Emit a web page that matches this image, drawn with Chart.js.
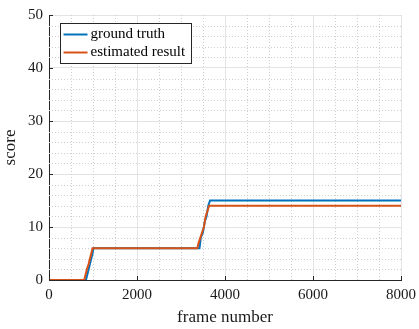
<!DOCTYPE html>
<html>
<head>
<meta charset="utf-8">
<script src="https://cdn.jsdelivr.net/npm/chart.js@4/dist/chart.umd.min.js"></script>
<style>
  html, body { margin: 0; padding: 0; background: #fff; }
  #wrap { width: 419px; height: 329px; }
</style>
</head>
<body>
<div id="wrap"><canvas id="scoreChart" width="419" height="329"></canvas></div>
<script>
// data
const gtFrames  = [0, 840, 870, 900, 930, 960, 990, 1010, 3420, 3450, 3500, 3540, 3580, 3620, 3660, 8000];
const gtScores  = [0, 0, 1, 2, 3, 4, 5, 6, 6, 8, 9, 11, 12, 14, 15, 15];
const estFrames = [0, 800, 830, 860, 900, 930, 960, 990, 3370, 3400, 3440, 3480, 3520, 3560, 3600, 3640, 8000];
const estScores = [0, 0, 1, 2, 3, 4, 5, 6, 6, 7, 8, 9, 10, 12, 13, 14, 14];
const xTicks = [0, 2000, 4000, 6000, 8000];
const yTicks = [0, 10, 20, 30, 40, 50];

const toPoints = (xs, ys) => xs.map((x, i) => ({ x: x, y: ys[i] }));

const serif = "'Liberation Serif', 'Times New Roman', serif";
const axisColor = '#262626';

// minor dotted grid, inward ticks and legend box inside the axes
const matlabLook = {
    id: 'matlabLook',
    beforeDatasetsDraw(chart) {
        const { ctx, chartArea: a, scales: { x, y } } = chart;
        ctx.save();
        ctx.strokeStyle = '#cfcfcf';
        ctx.lineWidth = 1;
        ctx.setLineDash([1, 2]);
        for (let v = 0; v <= 8000; v += 500) {
            if (v % 2000 === 0) continue;
            const px = Math.round(x.getPixelForValue(v)) + 0.5;
            ctx.beginPath(); ctx.moveTo(px, a.top); ctx.lineTo(px, a.bottom); ctx.stroke();
        }
        for (let v = 0; v <= 50; v += 2) {
            if (v % 10 === 0) continue;
            const py = Math.round(y.getPixelForValue(v)) + 0.5;
            ctx.beginPath(); ctx.moveTo(a.left, py); ctx.lineTo(a.right, py); ctx.stroke();
        }
        ctx.restore();
    },
    afterDatasetsDraw(chart) {
        const { ctx, chartArea: a, scales: { x, y } } = chart;
        ctx.save();
        ctx.strokeStyle = axisColor;
        ctx.lineWidth = 1;
        ctx.beginPath();
        xTicks.forEach(v => {
            const px = Math.round(x.getPixelForValue(v)) + 0.5;
            ctx.moveTo(px, a.bottom); ctx.lineTo(px, a.bottom - 4);
        });
        yTicks.forEach(v => {
            const py = Math.round(y.getPixelForValue(v)) + 0.5;
            ctx.moveTo(a.left, py); ctx.lineTo(a.left + 4, py);
        });
        ctx.stroke();

        // legend
        const bx = a.left + 11.5, by = a.top + 8.5, bw = 131, bh = 40;
        ctx.fillStyle = '#fff';
        ctx.fillRect(bx, by, bw, bh);
        ctx.strokeStyle = axisColor;
        ctx.strokeRect(bx, by, bw, bh);
        ctx.font = '15px ' + serif;
        ctx.textBaseline = 'middle';
        chart.data.datasets.forEach((ds, i) => {
            const ly = by + 11 + i * 18;
            ctx.strokeStyle = ds.borderColor;
            ctx.lineWidth = 2;
            ctx.beginPath(); ctx.moveTo(bx + 3, ly); ctx.lineTo(bx + 27, ly); ctx.stroke();
            ctx.fillStyle = '#000';
            ctx.fillText(ds.label, bx + 30, ly);
        });
        ctx.restore();
    }
};

const ctx = document.getElementById('scoreChart').getContext('2d');
const chart = new Chart(ctx, {
    type: 'line',
    data: {
        datasets: [{
            label: 'ground truth',
            data: toPoints(gtFrames, gtScores),
            borderColor: '#0072BD',
            borderWidth: 2,
            pointRadius: 0,
            tension: 0,
            order: 2
        }, {
            label: 'estimated result',
            data: toPoints(estFrames, estScores),
            borderColor: '#D95319',
            borderWidth: 2,
            pointRadius: 0,
            tension: 0,
            order: 1
        }]
    },
    options: {
        responsive: false,
        animation: false,
        layout: { padding: { left: 0, right: 18, top: 15, bottom: 0 } },
        plugins: {
            legend: { display: false },
            tooltip: { enabled: false }
        },
        scales: {
            x: {
                type: 'linear',
                min: 0,
                max: 8000,
                afterFit: s => { s.height = 49; s.paddingRight = 0; },
                afterBuildTicks: s => { s.ticks = xTicks.map(v => ({ value: v })); },
                ticks: { color: '#1a1a1a', font: { family: serif, size: 15 }, padding: 6, maxRotation: 0, callback: v => String(v) },
                grid: { color: '#e3e3e3', drawTicks: false },
                border: { color: axisColor, width: 1 },
                title: { display: true, text: 'frame number', color: '#1a1a1a', font: { family: serif, size: 17 }, padding: { top: 0, bottom: 1 } }
            },
            y: {
                min: 0,
                max: 50,
                afterFit: s => { s.width = 49; s.paddingTop = 0; },
                afterBuildTicks: s => { s.ticks = yTicks.map(v => ({ value: v })); },
                ticks: { color: '#1a1a1a', font: { family: serif, size: 15 }, padding: 6, callback: v => String(v) },
                grid: { color: '#e3e3e3', drawTicks: false },
                border: { color: axisColor, width: 1 },
                title: { display: true, text: 'score', color: '#1a1a1a', font: { family: serif, size: 17 }, padding: { top: 0, bottom: 4 } }
            }
        }
    },
    plugins: [matlabLook]
});
</script>
</body>
</html>
